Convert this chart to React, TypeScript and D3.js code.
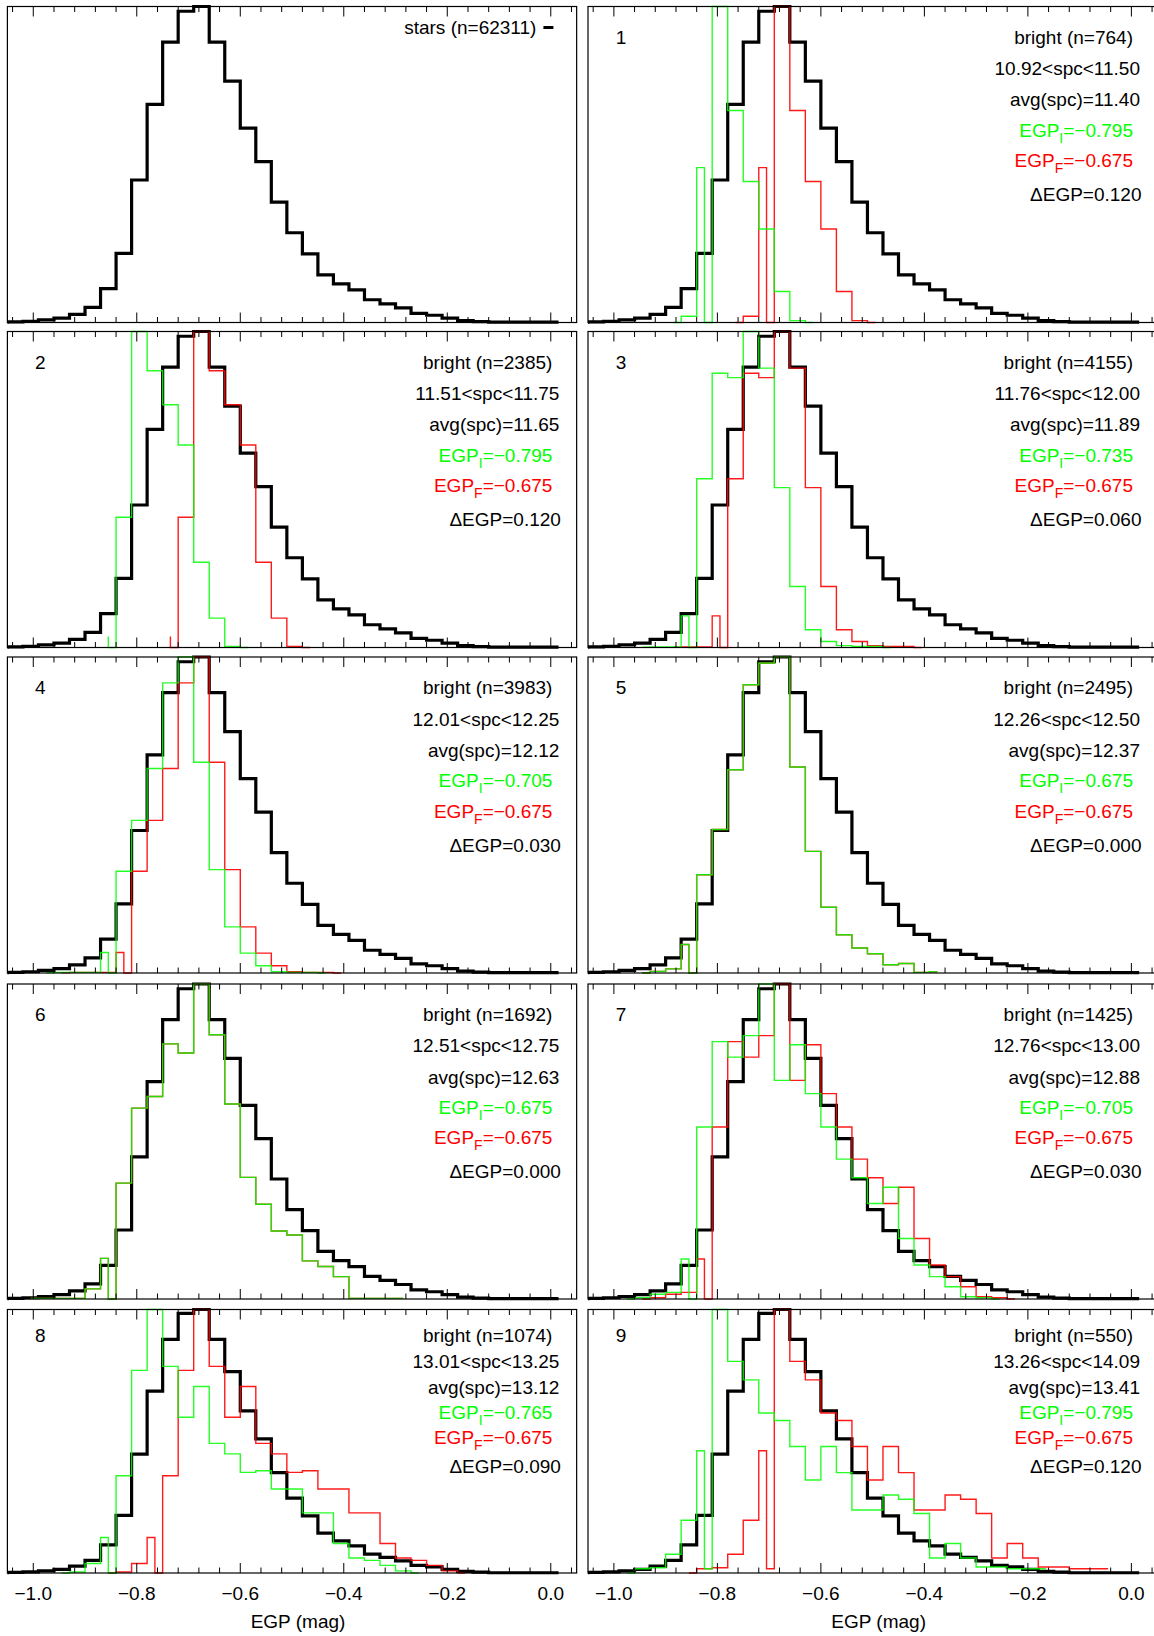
import * as d3 from 'd3';

const BIN = 0.03;
const X_DOMAIN: [number, number] = [-1.05, 0.05];
const PX_PER_MAG = 517.5;

// all stars (n=62311), normalised to the peak, bin centres from -1.065
const starStart = -1.065;
const starHist = [0.001, 0.002, 0.004, 0.008, 0.014, 0.026, 0.048, 0.107, 0.219, 0.451, 0.690, 0.887, 0.985, 1.000, 0.887, 0.764, 0.615, 0.509, 0.381, 0.284, 0.217, 0.151, 0.122, 0.103, 0.072, 0.059, 0.046, 0.029, 0.023, 0.014, 0.006, 0.003, 0.001, 0.001, 0.001, 0.001, 0.001];

// bright bins 1..9
const panelIds = ['1', '2', '3', '4', '5', '6', '7', '8', '9'];
const brightN = [764, 2385, 4155, 3983, 2495, 1692, 1425, 1074, 550];
const spcRange = ['10.92<spc<11.50', '11.51<spc<11.75', '11.76<spc<12.00', '12.01<spc<12.25', '12.26<spc<12.50', '12.51<spc<12.75', '12.76<spc<13.00', '13.01<spc<13.25', '13.26<spc<14.09'];
const avgSpc = ['11.40', '11.65', '11.89', '12.12', '12.37', '12.63', '12.88', '13.12', '13.41'];
const egpI = [-0.795, -0.795, -0.735, -0.705, -0.675, -0.675, -0.705, -0.765, -0.795];
const egpF = [-0.675, -0.675, -0.675, -0.675, -0.675, -0.675, -0.675, -0.675, -0.675];

// histogram of each bin using EGP_F (red); the EGP_I one (green) is the same shifted.
// first bin centre, then heights; [a, b] = bin drawn split at its centre
type Val = number | [number, number];
const brightStart = [-0.765, -0.735, -0.885, -0.945, -0.945, -1.005, -0.945, -0.855, -0.855];
const brightHist: Val[][] = [
  [0, 0.02, [0.49, 0], 1.0, 0.671, 0.446, 0.296, 0.098, 0.006, 0],
  [[0.035, 0], 0.412, 1.0, 0.876, 0.768, 0.641, 0.270, 0.093, 0.003, 0],
  [0.001, 0.002, 0.002, [0.10, 0], 0.534, 0.868, 0.854, 1.0, 0.884, 0.506, 0.193, 0.056, 0.019, 0.006, 0.003, 0.003, 0],
  [0.001, 0.002, 0.002, 0.002, [0.065, 0], 0.322, 0.483, 0.647, 0.918, 1.0, 0.667, 0.327, 0.146, 0.063, 0.023, 0.004, 0.002, 0.002, 0],
  [0, 0.005, 0.013, [0.09, 0], 0.311, 0.454, 0.643, 0.912, 0.981, 1.0, 0.652, 0.385, 0.208, 0.121, 0.079, 0.061, 0.026, 0.030, 0.002, 0.004],
  [0.002, 0.002, 0.002, 0.002, 0.032, [0.129, 0], 0.368, 0.606, 0.643, 0.810, 0.781, 1.0, 0.839, 0.619, 0.386, 0.301, 0.216, 0.203, 0.121, 0.103, 0.071, 0.002, 0.002, 0.002, 0.002],
  [0, 0.004, 0.015, 0.021, [0.127, 0], 0.546, 0.817, 0.768, 0.836, 1.0, 0.694, 0.807, 0.652, 0.546, 0.444, 0.385, 0.303, 0.355, 0.192, 0.108, 0.071, 0.039, 0.007, 0.004, 0],
  [0, 0.004, 0.036, [0.135, 0], 0.369, 0.769, 1.0, 0.784, 0.591, 0.708, 0.492, 0.452, 0.382, 0.388, 0.319, 0.319, 0.228, 0.228, 0.112, 0.057, 0.048, 0.029, 0.008, 0],
  [0, 0.016, 0.02, 0.071, 0.200, [0.464, 0.016], 1.0, 0.803, 0.733, 0.607, 0.579, 0.480, 0.353, 0.480, 0.381, 0.239, 0.239, 0.296, 0.280, 0.226, 0.057, 0.112, 0.057, 0.023, 0.023, 0.016, 0.016, 0.016],
];

const tickValues = [-1.0, -0.8, -0.6, -0.4, -0.2, 0.0];

const GREEN = '#00ff00';
const RED = '#ff0000';
const FONT = '"Liberation Sans", Arial, Helvetica, sans-serif';

const colLeft = [7.4, 588];
const rowTop = [6.5, 331.5, 657, 984, 1309.5];
const rowH = [316, 316, 316, 315, 263.5];
const lineFrac = [0.099, 0.198, 0.297, 0.393, 0.489, 0.597];

function toPoints(start: number, vals: Val[], shift = 0): [number, number][] {
  const pts: [number, number][] = [];
  vals.forEach((v, i) => {
    const c = start + i * BIN + shift;
    if (Array.isArray(v)) {
      pts.push([c, v[0]], [c, v[1]]);
    } else {
      pts.push([c, v]);
    }
  });
  return pts;
}

const fmtEgp = (v: number) => d3.format('.3f')(v);

export default function App() {
  const W = (X_DOMAIN[1] - X_DOMAIN[0]) * PX_PER_MAG;
  const minor = d3.range(-26, 2);

  const panels = d3.range(10).map((g) => {
    const row = Math.floor(g / 2);
    const col = g % 2;
    const left = colLeft[col];
    const top = rowTop[row];
    const h = rowH[row];
    const x = d3.scaleLinear().domain(X_DOMAIN).range([left, left + W]);
    const y = d3.scaleLinear().domain([0, 1]).range([top + h, top]);
    const line = d3
      .line<[number, number]>()
      .x((d) => x(d[0]))
      .y((d) => y(d[1]))
      .curve(d3.curveStep);
    const base = (i: number) => top + 6 + lineFrac[i] * h;
    const clipId = `clip${g}`;
    const k = g - 1;

    return (
      <g key={g}>
        <clipPath id={clipId}>
          <rect x={left} y={top - 4} width={W} height={h + 8} />
        </clipPath>
        <g clipPath={`url(#${clipId})`} fill="none" strokeLinejoin="miter">
          <path d={line(toPoints(starStart, starHist)) || ''} stroke="#000" strokeWidth={3.2} />
          {g > 0 && (
            <>
              <path d={line(toPoints(brightStart[k], brightHist[k])) || ''} stroke={RED} strokeWidth={1.4} strokeOpacity={0.9} />
              <path
                d={line(toPoints(brightStart[k], brightHist[k], egpI[k] - egpF[k])) || ''}
                stroke={GREEN}
                strokeWidth={1.4}
                strokeOpacity={0.85}
              />
            </>
          )}
        </g>
        <rect x={left} y={top} width={W} height={h} fill="none" stroke="#000" strokeWidth={1.2} />
        {minor.map((m) => {
          const v = m * 0.04;
          const len = m % 5 === 0 ? 10 : 5.5;
          return (
            <g key={m} stroke="#000" strokeWidth={1}>
              <line x1={x(v)} x2={x(v)} y1={top} y2={top + len} />
              <line x1={x(v)} x2={x(v)} y1={top + h} y2={top + h - len} />
            </g>
          );
        })}
        <g fontFamily={FONT} fontSize={19}>
          {g === 0 ? (
            <>
              <text x={left + 529} y={top + 27} textAnchor="end" fill="#000">
                stars (n=62311)
              </text>
              <line x1={left + 536} x2={left + 546} y1={top + 21} y2={top + 21} stroke="#000" strokeWidth={3} />
            </>
          ) : (
            <>
              <text x={left + 33} y={base(0)} textAnchor="middle" fill="#000">
                {panelIds[k]}
              </text>
              <text x={left + 545} y={base(0)} textAnchor="end" fill="#000">
                bright (n={brightN[k]})
              </text>
              <text x={left + 552} y={base(1)} textAnchor="end" fill="#000">
                {spcRange[k]}
              </text>
              <text x={left + 552} y={base(2)} textAnchor="end" fill="#000">
                avg(spc)={avgSpc[k]}
              </text>
              <text x={left + 545} y={base(3)} textAnchor="end" fill={GREEN}>
                EGP
                <tspan fontSize={14} dy={6}>
                  I
                </tspan>
                <tspan dy={-6}>={fmtEgp(egpI[k])}</tspan>
              </text>
              <text x={left + 545} y={base(4)} textAnchor="end" fill={RED}>
                EGP
                <tspan fontSize={14} dy={6}>
                  F
                </tspan>
                <tspan dy={-6}>={fmtEgp(egpF[k])}</tspan>
              </text>
              <text x={left + 553.5} y={base(5)} textAnchor="end" fill="#000">
                ΔEGP={fmtEgp(egpF[k] - egpI[k])}
              </text>
            </>
          )}
          {row === 4 && (
            <>
              {tickValues.map((t) => (
                <text key={t} x={x(t)} y={top + h + 27} textAnchor="middle" fill="#000">
                  {d3.format('.1f')(t)}
                </text>
              ))}
              <text x={x(-0.5) + 6} y={top + h + 55} textAnchor="middle" fill="#000">
                EGP (mag)
              </text>
            </>
          )}
        </g>
      </g>
    );
  });

  return (
    <svg
      width={1154}
      height={1636}
      style={{ position: 'absolute', left: 0, top: 0, background: '#fff' }}
    >
      <rect x={0} y={0} width={1154} height={1636} fill="#fff" />
      {panels}
    </svg>
  );
}
